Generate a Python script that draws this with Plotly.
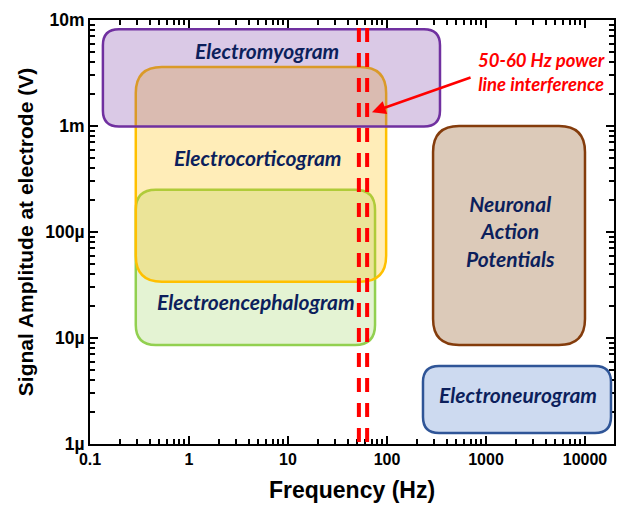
import math
import plotly.graph_objects as go

# ---------------- data ----------------
regions = ["Electroencephalogram", "Electrocorticogram", "Electromyogram",
           "Neuronal<br>Action<br>Potentials", "Electroneurogram"]
f_low = [0.29, 0.29, 0.135, 292, 231]          # Hz
f_high = [75.7, 98, 343, 10000, 18300]         # Hz
v_low = [8.6e-6, 3.4e-5, 0.99e-3, 8.6e-6, 1.27e-6]   # V
v_high = [2.5e-4, 3.6e-3, 8.2e-3, 1.0e-3, 5.44e-6]   # V
label_f = [4.75, 5.0, 6.1, 1750, 2090]
label_v = [2.2e-5, 5.1e-4, 5.2e-3, 1.02e-4, 2.9e-6]

powerline_f = [52, 63]
arrow_head = (70.5, 1.35e-3)
arrow_tail = (723, 2.9e-3)
powerline_text = "50-60 Hz power<br>line interference"
powerline_text_pos = (3600, 3.2e-3)

x_tickvals = [0.1, 1, 10, 100, 1000, 10000]
x_ticktext = ["0.1", "1", "10", "100", "1000", "10000"]
y_tickvals = [1e-6, 1e-5, 1e-4, 1e-3, 1e-2]
y_ticktext = ["1µ", "10µ", "100µ", "1m", "10m"]

# ---------------- styles ----------------
border_colors = ["#92d050", "#ffc000", "#7030a0", "#843c0c", "#2f5597"]
fill_colors = ["rgba(146,208,80,0.25)", "rgba(255,192,0,0.28)",
               "rgba(112,48,160,0.26)", "#dccab9", "#cddaf0"]
radius_px = [20, 26, 16, 26, 16]

X_RANGE = [-1, 4.293]
Y_RANGE = [-6, -2]
PX_PER_DEC_X = 99.0
PX_PER_DEC_Y = 106.0


def rounded_path(x0, x1, y0, y1, rpx):
    lx0, lx1 = math.log10(x0), math.log10(x1)
    ly0, ly1 = math.log10(y0), math.log10(y1)
    rx = rpx / PX_PER_DEC_X
    ry = rpx / PX_PER_DEC_Y
    P = lambda lx, ly: f"{10**lx:.8g},{10**ly:.8g}"
    d = []
    d.append("M " + P(lx0 + rx, ly0))
    d.append("L " + P(lx1 - rx, ly0))
    d.append("Q " + P(lx1, ly0) + " " + P(lx1, ly0 + ry))
    d.append("L " + P(lx1, ly1 - ry))
    d.append("Q " + P(lx1, ly1) + " " + P(lx1 - rx, ly1))
    d.append("L " + P(lx0 + rx, ly1))
    d.append("Q " + P(lx0, ly1) + " " + P(lx0, ly1 - ry))
    d.append("L " + P(lx0, ly0 + ry))
    d.append("Q " + P(lx0, ly0) + " " + P(lx0 + rx, ly0))
    d.append("Z")
    return " ".join(d)


fig = go.Figure()
fig.add_trace(go.Scatter(x=[1], y=[1e-4], mode="markers",
                         marker=dict(opacity=0), hoverinfo="skip",
                         showlegend=False))

shapes = []
for i in range(len(regions)):
    shapes.append(dict(type="path", xref="x", yref="y",
                       path=rounded_path(f_low[i], f_high[i], v_low[i], v_high[i], radius_px[i]),
                       fillcolor=fill_colors[i],
                       line=dict(color=border_colors[i], width=2.5)))
for f in powerline_f:
    shapes.append(dict(type="line", xref="x", yref="paper", x0=f, x1=f, y0=0.005, y1=0.995,
                       line=dict(color="#ff0000", width=4, dash="14px,11px")))

label_font = dict(family="Lato, Open Sans, sans-serif", size=21, color="#0c1f5c",
                  weight="bold", style="italic")
annotations = []
for i in range(len(regions)):
    annotations.append(dict(x=math.log10(label_f[i]), y=math.log10(label_v[i]),
                            xref="x", yref="y", text=regions[i], showarrow=False,
                            font=label_font, align="center"))

annotations.append(dict(x=math.log10(arrow_head[0]), y=math.log10(arrow_head[1]),
                        ax=math.log10(arrow_tail[0]), ay=math.log10(arrow_tail[1]),
                        xref="x", yref="y", axref="x", ayref="y", text="",
                        showarrow=True, arrowhead=2, arrowsize=1.1, arrowwidth=2.5,
                        arrowcolor="#ff0000"))
annotations.append(dict(x=math.log10(powerline_text_pos[0]), y=math.log10(powerline_text_pos[1]),
                        xref="x", yref="y", text=powerline_text, showarrow=False,
                        font=dict(family="Lato, Open Sans, sans-serif", size=18.5,
                                  color="#ff0000", weight="bold", style="italic"),
                        align="center"))

# minor tick positions (2..9 within each decade)
x_minor = [m * v for v in x_tickvals for m in range(2, 10)]
x_minor = [v for v in x_minor if math.log10(v) <= X_RANGE[1]]
y_minor = [m * v for v in y_tickvals[:-1] for m in range(2, 10)]

axis_common = dict(showline=True, linecolor="black", linewidth=2, mirror="allticks",
                   ticks="inside", ticklen=8, tickwidth=2, tickcolor="black",
                   showgrid=False, zeroline=False, automargin=False)

tick_font_x = dict(family="Arial, Liberation Sans, sans-serif", size=16,
                   color="black", weight="bold")
tick_font_y = dict(family="Arial, Liberation Sans, sans-serif", size=17.5,
                   color="black", weight="bold")

fig.update_layout(
    width=617, height=506,
    margin=dict(l=90, r=3, t=20, b=62),
    paper_bgcolor="white", plot_bgcolor="white",
    showlegend=False,
    shapes=shapes, annotations=annotations,
    xaxis=dict(type="log", range=X_RANGE, tickmode="array", tickvals=x_tickvals,
               ticktext=x_ticktext, tickfont=tick_font_x,
               minor=dict(tickmode="array", tickvals=x_minor, ticks="inside",
                          ticklen=5, tickwidth=1.5, tickcolor="black"),
               title=dict(text="Frequency (Hz)", standoff=15,
                          font=dict(family="Arial, Liberation Sans, sans-serif", size=23,
                                    color="black", weight="bold")),
               **axis_common),
    yaxis=dict(type="log", range=Y_RANGE, tickmode="array", tickvals=y_tickvals,
               ticktext=y_ticktext, tickfont=tick_font_y,
               minor=dict(tickmode="array", tickvals=y_minor, ticks="inside",
                          ticklen=5, tickwidth=1.5, tickcolor="black"),
               title=dict(text="Signal Amplitude at electrode (V)", standoff=6,
                          font=dict(family="Arial, Liberation Sans, sans-serif", size=21,
                                    color="black", weight="bold")),
               **axis_common),
)

fig.write_html("out.html",
               config={"displayModeBar": False},
               post_script="document.body.style.margin='0px';document.body.style.padding='0px';")
